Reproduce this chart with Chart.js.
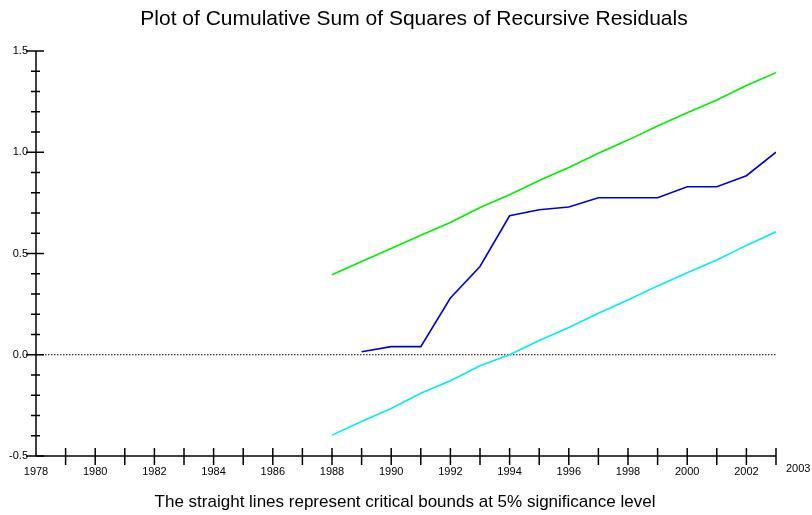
<!DOCTYPE html>
<html>
<head>
<meta charset="utf-8">
<script src="https://cdn.jsdelivr.net/npm/chart.js@4/dist/chart.umd.min.js"></script>
<style>
    html, body { margin: 0; padding: 0; background: #fff; }
    #wrap { width: 812px; height: 515px; }
</style>
</head>
<body>
<div id="wrap"><canvas id="cusumsq"></canvas></div>
<script>
// Daten
const years = [1988, 1989, 1990, 1991, 1992, 1993, 1994, 1995, 1996, 1997, 1998, 1999, 2000, 2001, 2002, 2003];
const upperBound = [0.395, 0.46, 0.525, 0.59, 0.653, 0.727, 0.79, 0.86, 0.925, 0.995, 1.06, 1.13, 1.195, 1.258, 1.33, 1.393];
const lowerBound = [-0.397, -0.33, -0.265, -0.19, -0.128, -0.054, 0.0, 0.07, 0.135, 0.205, 0.27, 0.34, 0.405, 0.468, 0.54, 0.607];
const cusumYears = [1989, 1990, 1991, 1992, 1993, 1994, 1995, 1996, 1997, 1998, 1999, 2000, 2001, 2002, 2003];
const cusumSq = [0.015, 0.04, 0.04, 0.28, 0.436, 0.686, 0.716, 0.73, 0.775, 0.775, 0.775, 0.83, 0.83, 0.884, 1.0];

const xTickYears = [1978, 1980, 1982, 1984, 1986, 1988, 1990, 1992, 1994, 1996, 1998, 2000, 2002];
const yTickLabels = ['-0.5', '0.0', '0.5', '1.0', '1.5'];

const titleText = 'Plot of Cumulative Sum of Squares of Recursive Residuals';
const footerText = 'The straight lines represent critical bounds at 5% significance level';

const FONT = '"Liberation Sans", Arial, Helvetica, sans-serif';

const toPoints = (xs, ys) => xs.map((x, i) => ({ x: x, y: ys[i] }));

/*
 * Achsen, Ticks und Beschriftung selbst zeichnen (Ticks kreuzen die Achse)
 */
const axisPlugin = {
    id: 'axisPlugin',
    beforeDatasetsDraw(chart) {
        const ctx = chart.ctx;
        const xs = chart.scales.x;
        const ys = chart.scales.y;
        const y0 = ys.getPixelForValue(0);

        // gepunktete Nulllinie
        ctx.save();
        ctx.strokeStyle = '#000';
        ctx.lineWidth = 1.2;
        ctx.setLineDash([1.5, 1.5]);
        ctx.beginPath();
        ctx.moveTo(xs.getPixelForValue(1978), y0);
        ctx.lineTo(xs.getPixelForValue(2003), y0);
        ctx.stroke();
        ctx.restore();
    },
    afterDatasetsDraw(chart) {
        const ctx = chart.ctx;
        const xs = chart.scales.x;
        const ys = chart.scales.y;
        const xAxis = xs.getPixelForValue(1978);
        const yAxis = ys.getPixelForValue(-0.5);

        ctx.save();
        ctx.strokeStyle = '#000';
        ctx.lineWidth = 1.5;

        // y-Achse
        ctx.beginPath();
        ctx.moveTo(xAxis, ys.getPixelForValue(1.5));
        ctx.lineTo(xAxis, yAxis);
        ctx.stroke();

        // x-Achse
        ctx.beginPath();
        ctx.moveTo(xAxis, yAxis);
        ctx.lineTo(xs.getPixelForValue(2003), yAxis);
        ctx.stroke();

        // y-Ticks alle 0.1
        for (let i = -5; i <= 15; i++) {
            const py = ys.getPixelForValue(i / 10);
            ctx.beginPath();
            if (i % 5 === 0) {
                ctx.moveTo(xAxis - 10, py);
                ctx.lineTo(xAxis + 8, py);
            } else {
                ctx.moveTo(xAxis - 5, py);
                ctx.lineTo(xAxis + 4, py);
            }
            ctx.stroke();
        }

        // x-Ticks jedes Jahr
        for (let yr = 1979; yr <= 2003; yr++) {
            const px = xs.getPixelForValue(yr);
            ctx.beginPath();
            ctx.moveTo(px, yAxis - 8);
            ctx.lineTo(px, yAxis + 9);
            ctx.stroke();
        }

        // Beschriftungen
        ctx.fillStyle = '#000';
        ctx.font = '11px ' + FONT;
        ctx.textAlign = 'right';
        ctx.textBaseline = 'middle';
        yTickLabels.forEach(lbl => {
            ctx.fillText(lbl, xAxis - 8, ys.getPixelForValue(parseFloat(lbl)));
        });

        ctx.textAlign = 'center';
        ctx.textBaseline = 'top';
        xTickYears.forEach(yr => {
            ctx.fillText(String(yr), xs.getPixelForValue(yr), yAxis + 10);
        });
        ctx.textAlign = 'left';
        ctx.fillText('2003', xs.getPixelForValue(2003) + 10, yAxis + 7);

        ctx.font = '21px ' + FONT;
        ctx.textAlign = 'center';
        ctx.textBaseline = 'middle';
        ctx.fillText(titleText, 414, 19);

        ctx.font = '17px ' + FONT;
        ctx.fillText(footerText, 405, 502);
        ctx.restore();
    }
};

new Chart(document.getElementById('cusumsq'), {
    type: 'line',
    data: {
        datasets: [
            {
                label: 'Upper bound',
                data: toPoints(years, upperBound),
                borderColor: '#00ee00',
                borderWidth: 1.6,
                pointRadius: 0,
                tension: 0
            },
            {
                label: 'CUSUM of squares',
                data: toPoints(cusumYears, cusumSq),
                borderColor: '#0000dd',
                borderWidth: 1.6,
                pointRadius: 0,
                tension: 0
            },
            {
                label: 'Lower bound',
                data: toPoints(years, lowerBound),
                borderColor: '#00eeee',
                borderWidth: 1.6,
                pointRadius: 0,
                tension: 0
            }
        ]
    },
    options: {
        responsive: true,
        maintainAspectRatio: false,
        animation: false,
        layout: {
            padding: { left: 36, right: 36, top: 51, bottom: 59 }
        },
        plugins: {
            legend: { display: false },
            tooltip: { enabled: false }
        },
        scales: {
            x: { type: 'linear', min: 1978, max: 2003, display: false },
            y: { min: -0.5, max: 1.5, display: false }
        }
    },
    plugins: [axisPlugin]
});
</script>
</body>
</html>
